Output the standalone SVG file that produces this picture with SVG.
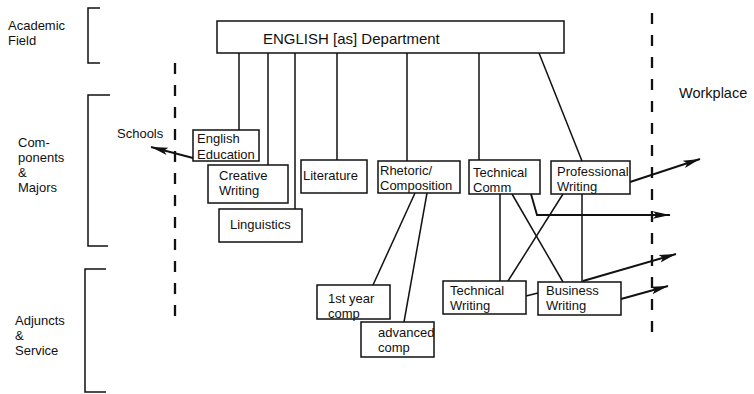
<svg xmlns="http://www.w3.org/2000/svg" width="754" height="394" viewBox="0 0 754 394">
<style>
text{font-family:"Liberation Sans",Arial,sans-serif;font-size:13px;fill:#111}
.box{fill:#fff;stroke:#111;stroke-width:1.5}
.ln{fill:none;stroke:#111;stroke-width:1.5}
.ar{fill:none;stroke:#111;stroke-width:1.9}
.dash{fill:none;stroke:#111;stroke-width:2.3;stroke-dasharray:11 11}
.br{fill:none;stroke:#111;stroke-width:1.5}
</style>
<defs>
<marker id="ah" markerUnits="userSpaceOnUse" markerWidth="18" markerHeight="10" refX="17" refY="5" orient="auto">
<path d="M0,1.2 L17,5 L0,8.8 L3.5,5 z" fill="#111"/>
</marker>
</defs>
<rect width="754" height="394" fill="#fff"/>
<g id="brackets">
<path class="br" d="M100,8 H88 V63 H100"/>
<path class="br" d="M110,95 H88 V246 H108"/>
<path class="br" d="M106,269 H85 V392 H106"/>
</g>
<g id="side-labels">
<text x="8" y="30">Academic</text><text x="8" y="45">Field</text>
<text x="18" y="147">Com-</text><text x="18" y="162">ponents</text><text x="18" y="177">&amp;</text><text x="18" y="192">Majors</text>
<text x="15" y="325">Adjuncts</text><text x="15" y="340">&amp;</text><text x="15" y="355">Service</text>
<text x="117" y="138">Schools</text>
<text x="679" y="98" style="font-size:14.5px">Workplace</text>
</g>
<g id="dividers">
<line class="dash" x1="175" y1="63" x2="175" y2="326"/>
<line class="dash" x1="652" y1="13" x2="652" y2="340"/>
</g>
<g id="connectors">
<line class="ln" x1="239" y1="53" x2="239" y2="130"/>
<line class="ln" x1="268" y1="53" x2="268" y2="165"/>
<line class="ln" x1="295" y1="53" x2="295" y2="209"/>
<line class="ln" x1="337" y1="53" x2="337" y2="160"/>
<line class="ln" x1="407" y1="53" x2="407" y2="161"/>
<line class="ln" x1="479" y1="53" x2="479" y2="160"/>
<line class="ln" x1="539" y1="53" x2="582" y2="161"/>
<line class="ln" x1="415" y1="193" x2="373" y2="285"/>
<line class="ln" x1="427" y1="193" x2="404" y2="322"/>
<line class="ln" x1="500" y1="194" x2="500" y2="281"/>
<line class="ln" x1="512" y1="194" x2="563" y2="282"/>
<line class="ln" x1="563" y1="194" x2="508" y2="281"/>
<line class="ln" x1="582" y1="194" x2="582" y2="282"/>
<line class="ln" x1="526" y1="296" x2="538" y2="293"/>
<path class="ar" d="M531,194 L537,215 H670" marker-end="url(#ah)"/>
<line class="ar" x1="193" y1="158" x2="151" y2="147" marker-end="url(#ah)"/>
<line class="ar" x1="630" y1="182" x2="700" y2="159" marker-end="url(#ah)"/>
<line class="ar" x1="583" y1="281" x2="676" y2="254" marker-end="url(#ah)"/>
<line class="ar" x1="621" y1="299" x2="668" y2="286" marker-end="url(#ah)"/>
</g>
<g id="english-department">
<rect class="box" x="217" y="21" width="347" height="32"/>
<text x="263" y="44" style="font-size:15px">ENGLISH [as] Department</text>
</g>
<g id="english-education">
<rect class="box" x="193" y="130" width="66" height="31"/>
<text x="197" y="143">English</text><text x="197" y="159">Education</text>
</g>
<g id="creative-writing">
<rect class="box" x="208" y="165" width="80" height="38"/>
<text x="219" y="180">Creative</text><text x="219" y="195">Writing</text>
</g>
<g id="linguistics">
<rect class="box" x="219" y="209" width="83" height="33"/>
<text x="230" y="229">Linguistics</text>
</g>
<g id="literature">
<rect class="box" x="301" y="160" width="66" height="33"/>
<text x="303" y="180">Literature</text>
</g>
<g id="rhetoric-composition">
<rect class="box" x="378" y="161" width="82" height="32"/>
<text x="380" y="175">Rhetoric/</text><text x="380" y="190">Composition</text>
</g>
<g id="technical-comm">
<rect class="box" x="469" y="160" width="71" height="34"/>
<text x="473" y="177">Technical</text><text x="473" y="192">Comm</text>
</g>
<g id="professional-writing">
<rect class="box" x="551" y="161" width="79" height="33"/>
<text x="557" y="176">Professional</text><text x="557" y="191">Writing</text>
</g>
<g id="first-year-comp">
<rect class="box" x="317" y="285" width="73" height="34"/>
<text x="328" y="303">1st year</text><text x="328" y="318">comp</text>
</g>
<g id="advanced-comp">
<rect class="box" x="361" y="322" width="73" height="35"/>
<text x="378" y="337">advanced</text><text x="378" y="352">comp</text>
</g>
<g id="technical-writing">
<rect class="box" x="443" y="281" width="83" height="33"/>
<text x="450" y="295">Technical</text><text x="450" y="310">Writing</text>
</g>
<g id="business-writing">
<rect class="box" x="538" y="282" width="83" height="33"/>
<text x="546" y="295">Business</text><text x="546" y="310">Writing</text>
</g>
</svg>
